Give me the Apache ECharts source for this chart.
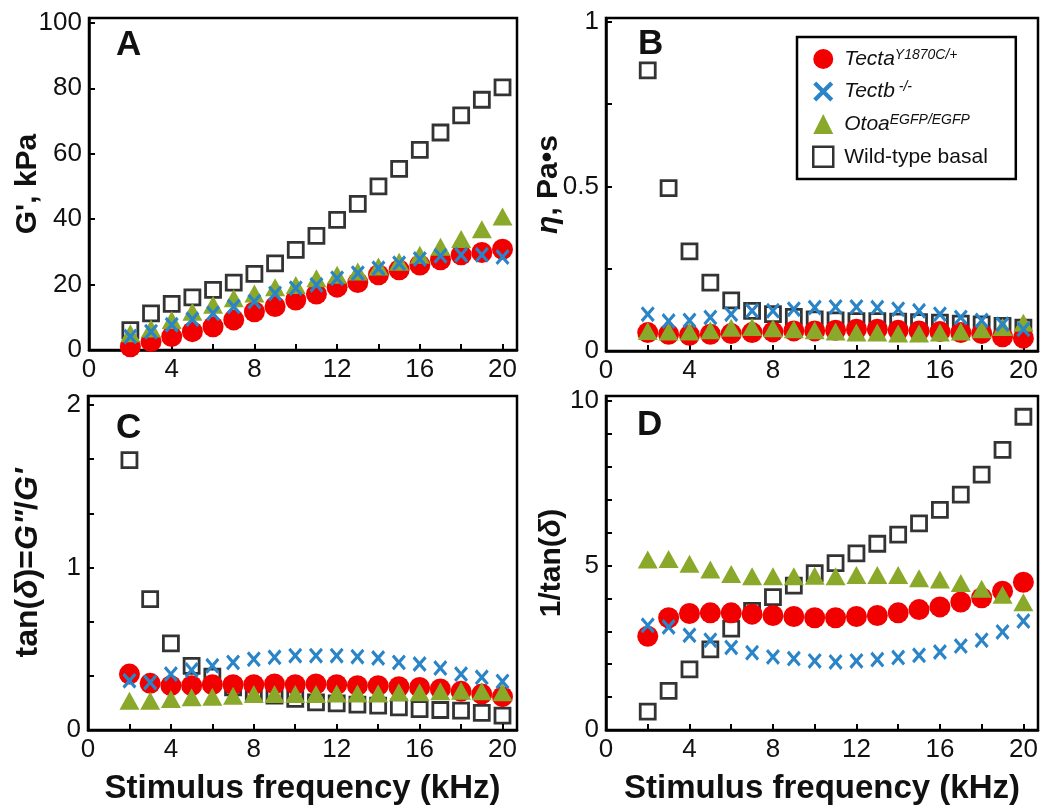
<!DOCTYPE html>
<html>
<head>
<meta charset="utf-8">
<script src="https://cdn.jsdelivr.net/npm/echarts@6/dist/echarts.min.js"></script>
<style>html,body{margin:0;padding:0;background:#fff;}#chart{width:1044px;height:812px;}</style>
</head>
<body>
<div id="chart"></div>
<script>
// ---- data ----
const freqKHz = [2,3,4,5,6,7,8,9,10,11,12,13,14,15,16,17,18,19,20];
const xTickLabels = [0,4,8,12,16,20];

// Panel A: G' (kPa)
const gA_tecta = [1.0,2.6,4.1,5.6,7.1,9.2,11.7,13.3,15.3,17.1,19.2,20.6,23.0,24.5,26.0,27.6,29.1,29.8,30.8];
const gA_tectb = [4.1,5.6,7.7,9.4,11.2,13.3,14.8,17.3,18.9,19.9,21.9,23.5,25.0,26.5,27.8,28.8,29.1,29.1,28.4];
const gA_otoa  = [5.1,6.6,9.2,11.7,13.8,15.8,17.3,19.2,19.9,21.9,23.0,24.0,25.5,27.0,29.1,31.6,33.9,36.9,40.8];
const gA_wt    = [6.1,11.2,14.1,16.1,18.4,20.6,23.3,26.5,30.6,34.9,39.8,44.7,50.0,55.4,61.2,66.5,71.7,76.5,80.3];

// Panel B: eta (Pa s)
const etaB_tecta = [0.056,0.051,0.048,0.051,0.053,0.056,0.058,0.061,0.061,0.063,0.066,0.066,0.063,0.061,0.059,0.056,0.053,0.043,0.039];
const etaB_tectb = [0.112,0.091,0.093,0.102,0.112,0.122,0.122,0.127,0.132,0.134,0.134,0.132,0.127,0.122,0.112,0.102,0.093,0.081,0.066];
const etaB_otoa  = [0.061,0.059,0.059,0.063,0.071,0.073,0.069,0.066,0.063,0.059,0.056,0.056,0.053,0.053,0.056,0.059,0.066,0.073,0.086];
const etaB_wt    = [0.853,0.495,0.303,0.208,0.154,0.122,0.112,0.104,0.096,0.093,0.091,0.091,0.089,0.088,0.086,0.083,0.081,0.076,0.071];

// Panel C: tan(delta)
const tanC_tecta = [0.344,0.287,0.273,0.273,0.279,0.279,0.279,0.283,0.279,0.283,0.279,0.273,0.273,0.266,0.262,0.252,0.238,0.221,0.205];
const tanC_tectb = [0.303,0.293,0.344,0.369,0.395,0.416,0.436,0.447,0.457,0.457,0.457,0.451,0.443,0.416,0.406,0.381,0.344,0.324,0.299];
const tanC_otoa  = [0.180,0.180,0.191,0.201,0.205,0.211,0.221,0.221,0.221,0.221,0.225,0.225,0.225,0.232,0.232,0.238,0.242,0.238,0.232];
const tanC_wt    = [1.66,0.805,0.533,0.395,0.328,0.262,0.232,0.211,0.191,0.170,0.164,0.156,0.150,0.139,0.129,0.123,0.119,0.105,0.088];

// Panel D: 1/tan(delta)
const invD_tecta = [2.85,3.41,3.54,3.56,3.56,3.52,3.48,3.45,3.41,3.41,3.45,3.48,3.56,3.66,3.74,3.89,4.02,4.22,4.49];
const invD_tectb = [3.18,3.13,2.88,2.73,2.51,2.35,2.22,2.17,2.10,2.07,2.10,2.14,2.20,2.27,2.37,2.55,2.73,2.98,3.31];
const invD_otoa  = [5.18,5.20,5.05,4.88,4.74,4.67,4.67,4.67,4.69,4.67,4.71,4.71,4.71,4.61,4.57,4.47,4.29,4.11,3.88];
const invD_wt    = [0.56,1.19,1.84,2.45,3.08,3.62,4.04,4.39,4.77,5.07,5.37,5.66,5.94,6.28,6.69,7.15,7.76,8.51,9.52];

const yTickLabelsA = [0,20,40,60,80,100];
const yTickLabelsB = [0,0.5,1];
const yTickLabelsC = [0,1,2];
const yTickLabelsD = [0,5,10];

const seriesNames = ['Tecta','Tectb','Otoa','Wild-type basal'];

// ---- styling ----
const FONT = 'Liberation Sans, Arial, Helvetica, sans-serif';
const RED = '#f20000', BLUE = '#2a84c8', GREEN = '#8aa829';
const X_PATH = 'path://M15,0 L50,35 L85,0 L100,15 L65,50 L100,85 L85,100 L50,65 L15,100 L0,85 L35,50 L0,15 Z';

const chart = echarts.init(document.getElementById('chart'), null, {renderer: 'canvas'});

const grids = [
  {left: 89,  top: 18,  width: 428, height: 332},
  {left: 606, top: 18,  width: 432, height: 333},
  {left: 88,  top: 396, width: 429, height: 334},
  {left: 606, top: 396, width: 432, height: 334}
].map(g => Object.assign(g, {show: true, borderColor: '#000', borderWidth: 2.5, backgroundColor: 'transparent'}));

function inList(list, v) { return list.some(t => Math.abs(t - v) < 1e-6); }

function xAxis(i, withName) {
  return {
    gridIndex: i, type: 'value', min: 0, max: 20.7, interval: 2,
    axisLine: {show: true, lineStyle: {color: '#000', width: 2.5}},
    axisTick: {show: true, inside: true, length: 6, lineStyle: {color: '#000', width: 2}},
    splitLine: {show: false},
    axisLabel: {color: '#111', fontFamily: FONT, fontSize: 26, margin: 7,
      formatter: v => inList(xTickLabels, v) ? String(Math.round(v)) : ''},
    name: withName ? 'Stimulus frequency (kHz)' : '',
    nameLocation: 'middle', nameGap: 42, nameMoveOverlap: false,
    nameTextStyle: {color: '#111', fontFamily: FONT, fontSize: 33, fontWeight: 'bold'}
  };
}

function nameRich(fs) {
  return {
    b: {fontFamily: FONT, fontSize: fs, fontWeight: 'bold', color: '#111'},
    bi: {fontFamily: FONT, fontSize: fs, fontWeight: 'bold', fontStyle: 'italic', color: '#111'}
  };
}

function yAxis(i, min, max, interval, labels, name, gap, fs) {
  return {
    gridIndex: i, type: 'value', min: min, max: max, interval: interval,
    axisLine: {show: true, lineStyle: {color: '#000', width: 2.5}},
    axisTick: {show: true, inside: true, length: 6, lineStyle: {color: '#000', width: 2}},
    splitLine: {show: false},
    axisLabel: {color: '#111', fontFamily: FONT, fontSize: 26, margin: 7,
      formatter: v => inList(labels, v) ? String(labels.find(t => Math.abs(t - v) < 1e-6)) : ''},
    name: name, nameLocation: 'middle', nameGap: gap, nameMoveOverlap: false,
    nameTextStyle: {rich: nameRich(fs)}
  };
}

function pts(arr) { return freqKHz.map((f, i) => [f, arr[i]]); }

function panelSeries(i, tecta, tectb, otoa, wt) {
  return [
    {name: 'Wild-type basal', type: 'scatter', xAxisIndex: i, yAxisIndex: i, data: pts(wt),
      symbol: 'rect', symbolSize: 15,
      itemStyle: {color: 'rgba(255,255,255,0)', borderColor: '#000', borderWidth: 2.8}},
    {name: 'Tecta', type: 'scatter', xAxisIndex: i, yAxisIndex: i, data: pts(tecta),
      symbol: 'circle', symbolSize: 21, itemStyle: {color: RED, opacity: 1}},
    {name: 'Otoa', type: 'scatter', xAxisIndex: i, yAxisIndex: i, data: pts(otoa),
      symbol: 'triangle', symbolSize: [20, 18], itemStyle: {color: GREEN, opacity: 1}},
    {name: 'Tectb', type: 'scatter', xAxisIndex: i, yAxisIndex: i, data: pts(tectb),
      symbol: X_PATH, symbolSize: [14, 16], itemStyle: {color: BLUE, opacity: 1}}
  ];
}

const option = {
  backgroundColor: '#fff',
  animation: false,
  grid: grids,
  xAxis: [xAxis(0, false), xAxis(1, false), xAxis(2, true), xAxis(3, true)],
  yAxis: [
    yAxis(0, 0, 101.5, 20, yTickLabelsA, "{b|G', kPa}", 46, 30),
    yAxis(1, 0, 1.012, 0.25, yTickLabelsB, '{bi|η}{b|, Pa•s}', 42, 30),
    yAxis(2, 0, 2.055, 1/3, yTickLabelsC, '{b|tan(}{bi|δ}{b|)=}{bi|G"}{b|/}{bi|G\'}', 44, 32),
    yAxis(3, 0, 10.15, 1, yTickLabelsD, '{b|1/tan(}{bi|δ}{b|)}', 39, 30)
  ],
  legend: {
    orient: 'vertical', left: 797, top: 37,
    padding: [11, 28, 11, 15],
    borderColor: '#000', borderWidth: 2.5, backgroundColor: '#fff',
    itemWidth: 20, itemHeight: 20, itemGap: 11,
    selectedMode: false,
    data: [
      {name: 'Tecta', icon: 'circle', itemStyle: {color: RED}},
      {name: 'Tectb', icon: X_PATH, itemStyle: {color: BLUE}},
      {name: 'Otoa', icon: 'triangle', itemStyle: {color: GREEN}},
      {name: 'Wild-type basal', icon: 'rect', itemStyle: {color: 'rgba(255,255,255,0)', borderColor: '#000', borderWidth: 2.5}}
    ],
    formatter: function (name) {
      if (name === 'Tecta') return '{it|Tecta}{sup|Y1870C/+}';
      if (name === 'Tectb') return '{it|Tectb}{sup| -/-}';
      if (name === 'Otoa') return '{it|Otoa}{sup|EGFP/EGFP}';
      return '{n|Wild-type basal}';
    },
    textStyle: {
      padding: [0, 0, 0, 6],
      rich: {
        it: {fontFamily: FONT, fontSize: 21, fontStyle: 'italic', color: '#111', lineHeight: 22},
        n: {fontFamily: FONT, fontSize: 21, color: '#111', lineHeight: 22},
        sup: {fontFamily: FONT, fontSize: 14, fontStyle: 'italic', color: '#111', verticalAlign: 'top', lineHeight: 14}
      }
    }
  },
  graphic: [
    {type: 'text', left: 116, top: 28, style: {text: 'A', font: 'bold 35px ' + FONT, fill: '#111'}},
    {type: 'text', left: 638, top: 27, style: {text: 'B', font: 'bold 35px ' + FONT, fill: '#111'}},
    {type: 'text', left: 116, top: 411, style: {text: 'C', font: 'bold 35px ' + FONT, fill: '#111'}},
    {type: 'text', left: 637, top: 408, style: {text: 'D', font: 'bold 35px ' + FONT, fill: '#111'}}
  ],
  series: [].concat(
    panelSeries(0, gA_tecta, gA_tectb, gA_otoa, gA_wt),
    panelSeries(1, etaB_tecta, etaB_tectb, etaB_otoa, etaB_wt),
    panelSeries(2, tanC_tecta, tanC_tectb, tanC_otoa, tanC_wt),
    panelSeries(3, invD_tecta, invD_tectb, invD_otoa, invD_wt)
  )
};

chart.setOption(option);
</script>
</body>
</html>
